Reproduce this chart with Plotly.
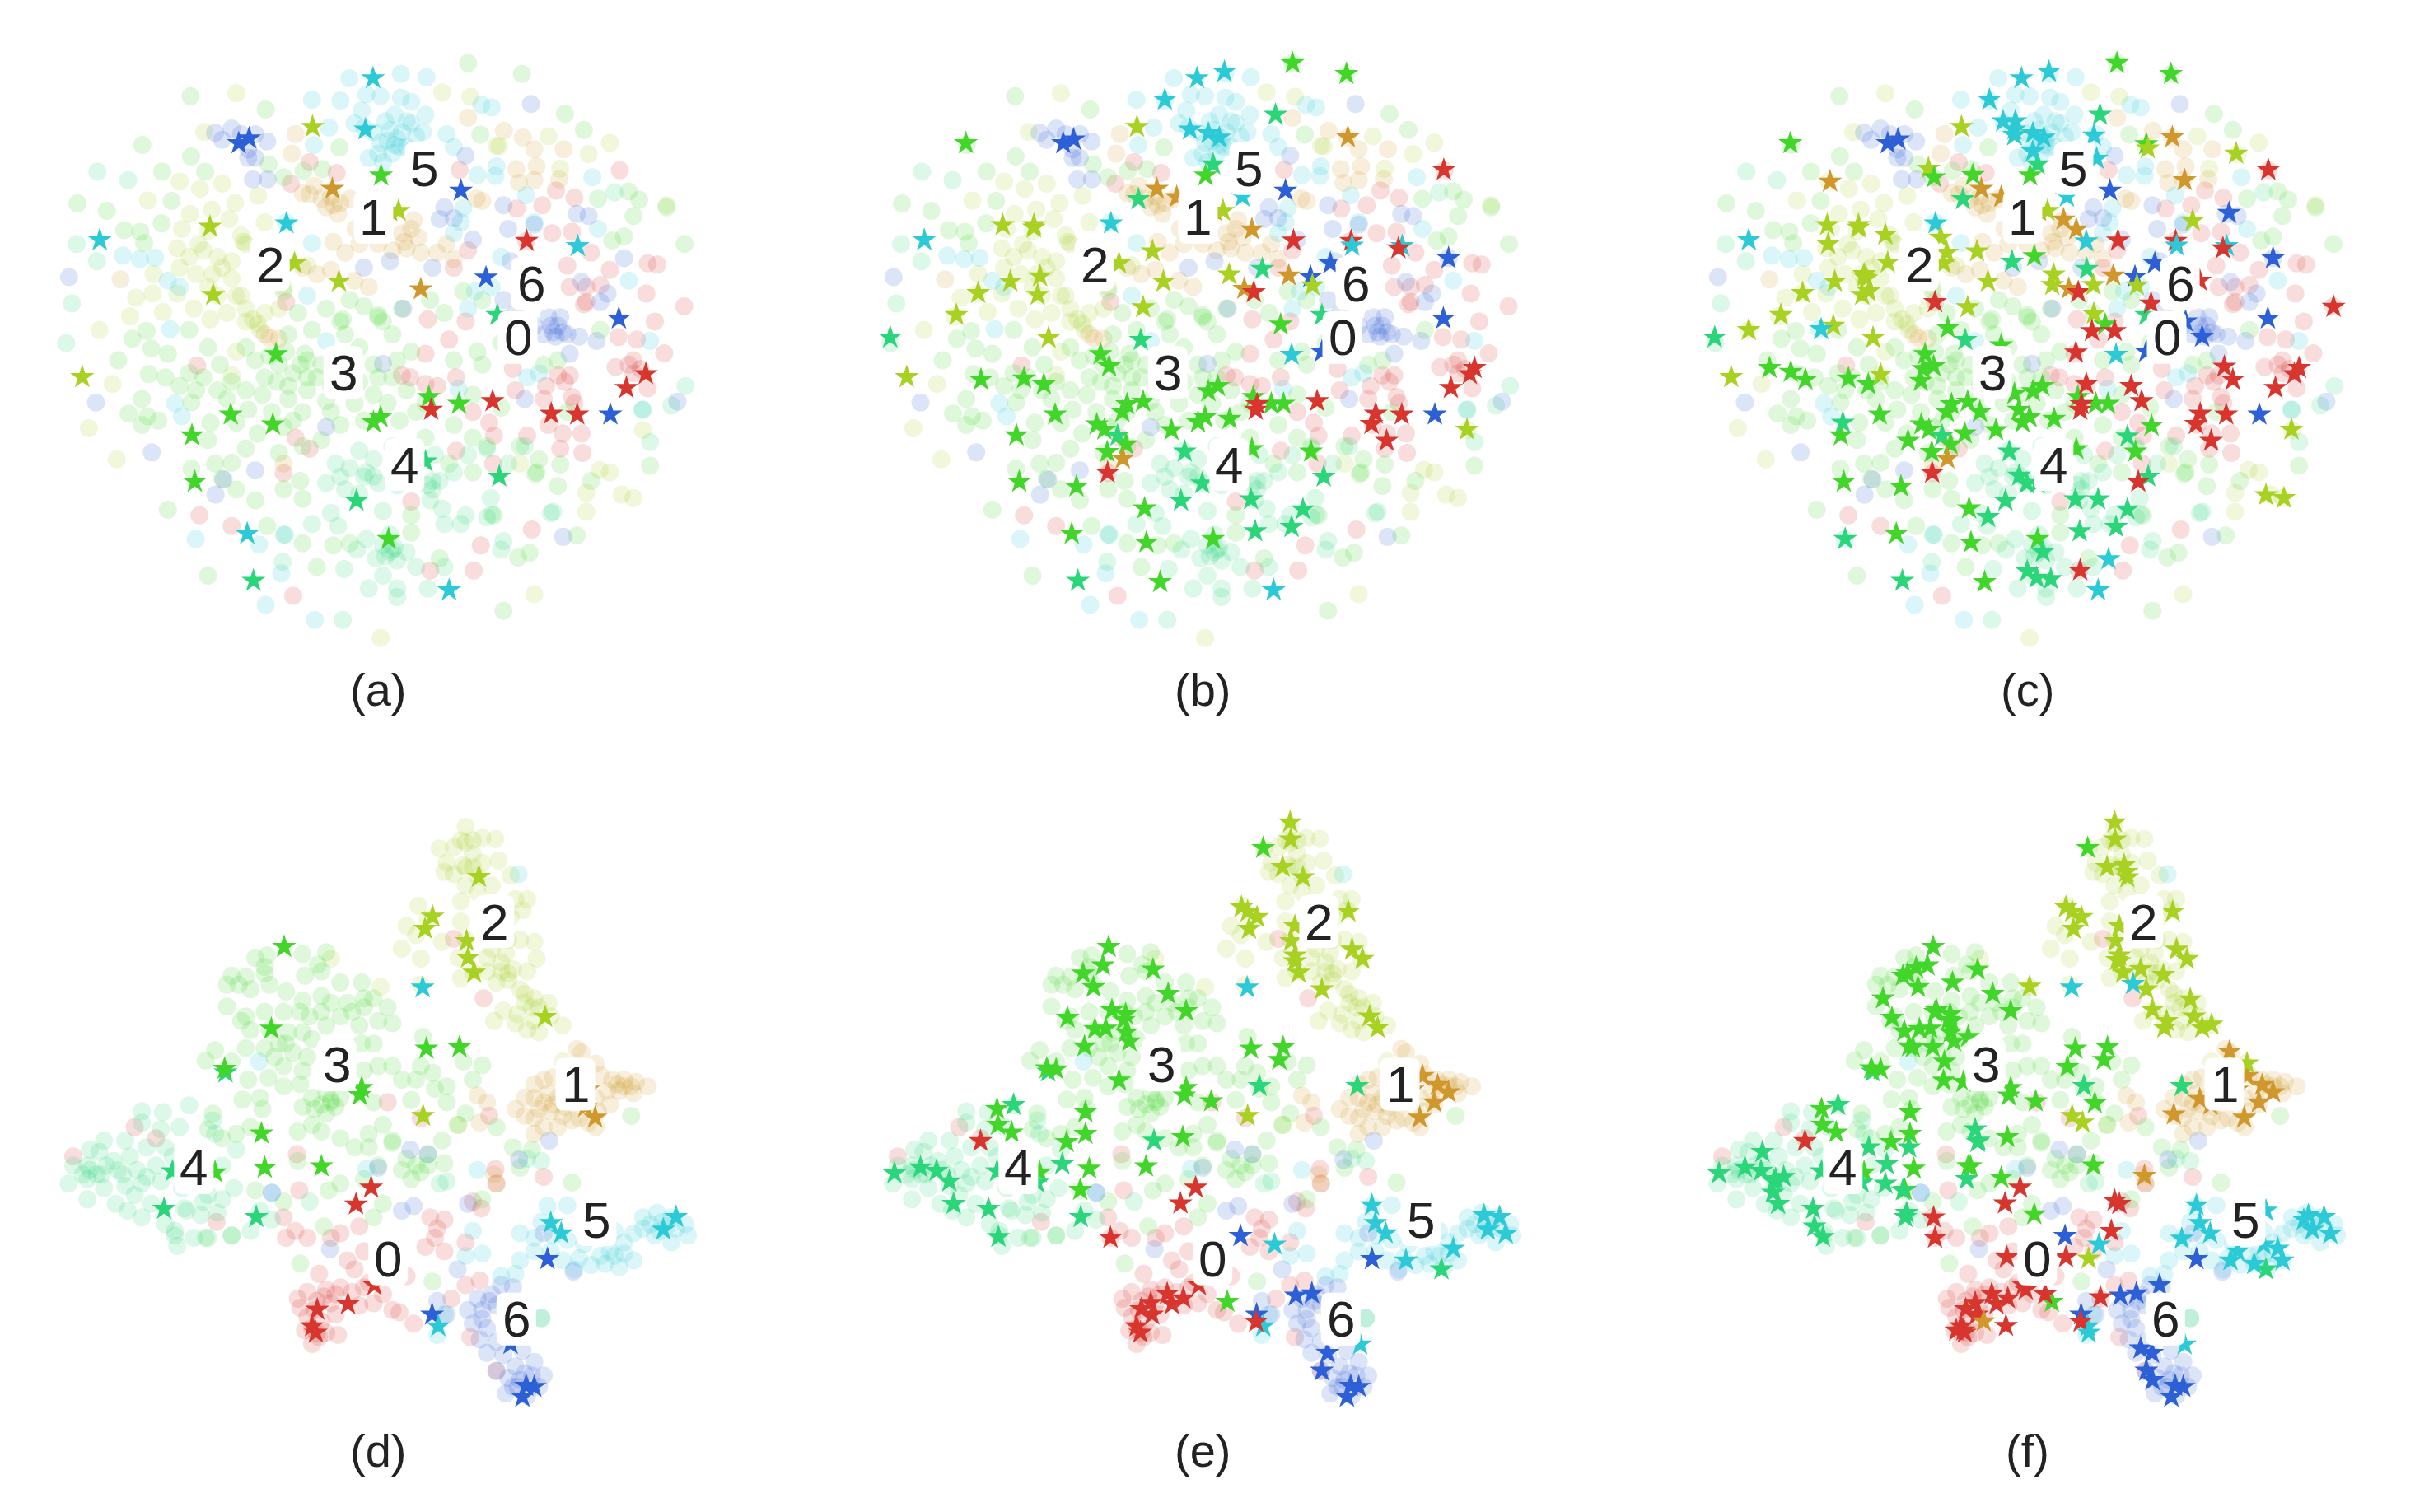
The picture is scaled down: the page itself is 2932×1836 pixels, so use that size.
import plotly.graph_objects as go

class_colors = ["#d8352f", "#d0982c", "#a8d122", "#43d62a", "#2bd67a", "#2ccad6", "#2d5fd6"]

top_bg_0 = [(1311,319),(972,318),(1176,366),(1215,383),(1093,408),(1147,400),(1168,465),(1210,462),(1113,483),(960,545),(990,505),(1200,540),(1290,550),(1205,590),(1240,590),(1270,585),(1235,630),(1367,605),(1447,635),(1385,670),(1308,706),(1347,712),(1405,744),(1340,760),(1302,776),(1340,790),(1370,825),(1205,795),(1180,795),(1155,820),(1210,845),(1150,850),(1160,910),(1190,930),(1185,965),(1232,975),(1230,930),(1115,935),(1090,830),(905,665),(900,745),(985,670),(950,712),(1085,780),(965,800),(868,800),(850,795),(900,815),(925,820),(1035,905),(1045,935),(965,970),(1043,1000),(1000,880),(600,1022),(655,965),(625,940),(422,1120),(490,1145),(1125,1153),(1017,1190),(1002,1248),(910,1248),(620,1307),(417,772),(605,625),(1390,538),(1370,535),(1250,510),(655,300),(712,325),(615,350),(870,1088),(1330,770),(1355,780),(1215,860),(1195,810),(1240,625)]
top_bg_1 = [(640,372),(665,355),(700,380),(690,405),(720,395),(740,385),(715,420),(752,455),(705,485),(875,435),(850,465),(885,475),(860,500),(890,510),(830,505),(800,490),(760,490),(730,510),(670,560),(700,550),(640,545),(750,575),(780,590),(925,510),(945,490),(960,525),(1130,270),(1192,270),(1130,342),(1098,348),(1135,310),(1092,316),(1066,227),(1106,243),(990,197),(1183,340),(625,235),(617,280),(570,708),(590,710),(560,700),(600,1000),(255,572),(1008,385),(1020,390),(680,385),(705,400),(655,375),(870,455),(855,485)]
top_bg_2 = [(500,140),(432,230),(935,138),(995,148),(1056,263),(1245,281),(1290,255),(380,345),(423,362),(470,350),(313,389),(402,420),(448,410),(497,395),(546,378),(485,432),(440,460),(385,455),(420,490),(510,470),(520,490),(560,440),(375,500),(400,520),(430,505),(460,520),(490,530),(380,545),(415,560),(450,560),(490,570),(325,560),(375,605),(323,605),(288,615),(275,658),(345,648),(410,640),(460,610),(500,610),(480,650),(445,665),(520,670),(545,675),(560,650),(520,640),(590,640),(600,590),(650,540),(210,690),(238,815),(188,918),(247,990),(490,795),(500,740),(1410,400),(1268,1015),(1290,1020),(1315,1072),(1340,1080),(1240,1068),(1240,1112),(1360,922),(1130,1303),(805,1405),(1100,1000),(1160,240),(1185,315),(1050,262),(535,665),(550,690),(515,485),(470,545),(510,610),(440,590)]
top_bg_3 = [(403,147),(562,178),(990,70),(1104,95),(301,260),(404,287),(1016,236),(718,266),(434,322),(343,322),(568,305),(600,335),(642,320),(682,316),(164,396),(226,413),(342,442),(363,390),(263,458),(297,462),(305,488),(1352,387),(1330,368),(1235,225),(1195,188),(1265,385),(1340,425),(1295,482),(1320,473),(1410,405),(1448,490),(1375,1005),(1180,1052),(1220,1167),(1132,1024),(1065,1342),(440,1260),(355,1107),(310,692),(280,710),(320,733),(355,745),(250,760),(315,792),(400,790),(300,850),(272,884),(312,890),(300,910),(335,900),(405,858),(445,905),(440,945),(405,1012),(455,1000),(490,998),(520,965),(470,1035),(500,1060),(540,1085),(600,1060),(635,1040),(640,1082),(565,1145),(640,1185),(670,1240),(705,1190),(740,1185),(870,1120),(870,1160),(1000,1020),(1135,1020),(1045,1120),(1120,1207),(1096,1218),(930,1220),(400,690),(440,730),(465,770),(520,730),(570,750),(605,740),(645,745),(680,770),(620,790),(585,810),(555,840),(520,830),(480,850),(525,875),(575,880),(600,915),(640,880),(690,855),(650,830),(610,850),(650,800),(700,820),(750,860),(790,840),(820,860),(770,900),(720,910),(680,945),(640,960),(590,975),(545,930),(500,905),(845,900),(880,880),(840,760),(790,770),(760,730),(720,670),(800,660),(770,635),(740,620),(690,640),(630,650),(660,690),(610,700),(730,700),(830,700),(870,740),(850,640),(910,620),(940,650),(980,600),(1020,620),(1020,770),(1060,720),(1010,740),(960,760),(1000,840),(1060,870),(1100,960),(1140,990),(1185,1002),(960,910),(900,940),(1000,940),(1030,960),(950,1000),(1250,1040),(1180,760),(1150,770),(1270,690),(1200,880),(600,600),(570,560),(800,655),(810,670),(725,665),(635,770),(650,760),(590,770),(560,800),(540,760),(490,810),(460,830),(430,800),(415,830),(380,820),(350,800),(610,820),(670,800),(620,900),(700,880),(730,780),(760,810),(800,800),(830,800),(860,830),(900,860)]
top_bg_4 = [(206,322),(271,342),(205,530),(162,490),(140,720),(152,628),(1450,820),(1360,875),(1375,950),(1420,865),(1170,1112),(1300,370),(1030,1125),(1065,1180),(830,1200),(810,1190),(840,1225),(795,1220),(775,1175),(825,1165),(860,1205),(880,1240),(840,1290),(780,1290),(810,1260),(840,1310),(905,1290),(940,1240),(910,1085),(935,1105),(905,1050),(930,1040),(960,1020),(880,1030),(840,1050),(800,1045),(770,1030),(740,1010),(710,1000),(690,1045),(730,1060),(760,1070),(790,990),(700,1115),(715,1145),(660,1140),(600,1165),(598,1228),(728,1245),(725,1363),(940,1140),(975,1140),(1040,1118),(1038,1080),(985,1120),(830,960),(870,1000),(760,970),(920,980),(990,980),(1030,965),(810,1110),(1165,1115),(1110,960),(1075,1000),(755,1200),(1060,1200),(825,1205),(835,1195),(815,1215),(775,1020),(790,1030),(915,1040),(915,1060),(720,1030)]
top_bg_5 = [(739,105),(848,95),(902,103),(660,155),(720,157),(1018,167),(1040,173),(775,143),(805,147),(765,180),(848,150),(870,160),(835,190),(815,205),(900,190),(870,210),(850,230),(895,230),(840,245),(805,255),(790,230),(860,265),(830,280),(810,300),(780,290),(750,210),(770,220),(945,235),(960,265),(696,220),(664,260),(1050,310),(1010,330),(1048,332),(1113,377),(1253,335),(980,407),(975,440),(960,465),(1130,440),(1265,455),(1060,520),(1005,600),(990,640),(1040,590),(328,522),(296,525),(260,517),(355,575),(360,688),(385,890),(370,860),(380,590),(1330,575),(1375,715),(1115,800),(1140,790),(970,827),(1358,875),(414,1175),(595,1255),(666,1363),(562,1328),(548,1188),(603,1165),(605,440),(660,488),(650,610),(690,715),(835,260),(845,265),(825,225),(860,205),(820,250),(880,240),(800,280)]
top_bg_6 = [(455,232),(490,222),(470,248),(510,235),(540,235),(565,252),(525,270),(525,290),(540,290),(535,340),(566,340),(1123,165),(985,285),(940,405),(960,430),(930,432),(1000,480),(1065,400),(1075,455),(1130,445),(1220,420),(1245,425),(1320,523),(1230,578),(1285,605),(1270,625),(146,567),(203,858),(321,974),(473,1037),(456,1072),(540,1016),(1191,1170),(1433,856),(853,640),(1160,660),(1185,660),(1150,700),(1175,705),(1200,700),(1225,705),(1205,745),(1262,715),(1110,850),(1065,620),(1090,650),(1080,530),(770,545),(825,530),(915,545),(690,915),(810,768),(1180,680),(1170,695),(1190,695),(1165,680),(1130,680)]
bot_bg_0 = [(1023,460),(960,328),(285,745),(330,770),(155,810),(458,955),(600,945),(605,990),(625,975),(650,990),(633,885),(628,805),(720,980),(700,990),(760,965),(910,945),(940,950),(920,990),(900,1010),(940,1020),(985,1000),(1018,925),(1048,838),(1050,870),(1000,910),(735,1040),(750,1060),(770,1020),(840,1060),(860,1075),(675,1070),(690,1105),(720,1100),(650,1110),(670,1130),(630,1125),(700,1135),(745,1110),(780,1090),(810,1115),(790,1135),(760,1140),(830,1150),(845,1155),(650,1165),(680,1175),(645,1195),(670,1200),(660,1225),(715,1205),(690,1200),(875,1180),(955,1125),(985,1095),(1015,1085),(995,1210),(1050,1285),(890,725),(820,690),(635,1145),(710,1160),(1150,855),(1035,720),(660,1190),(675,1210),(685,1120),(710,1115),(665,1150),(770,1100),(925,970)]
bot_bg_1 = [(1220,572),(1230,580),(1260,605),(1270,630),(1295,640),(1320,640),(1345,645),(1370,655),(1340,670),(1310,665),(1285,665),(1260,680),(1290,695),(1265,710),(1130,650),(1150,640),(1170,635),(1110,680),(1130,680),(1160,670),(1180,680),(1140,705),(1090,705),(1110,720),(1130,725),(1165,710),(1190,720),(1210,730),(1150,745),(1130,760),(1180,745),(1225,725),(1245,735),(1260,745),(1045,850),(1050,870),(1010,675),(1030,690),(1015,735),(1320,655),(1335,655),(1150,690),(1170,695),(1195,700),(1305,650)]
bot_bg_2 = [(985,80),(975,110),(1020,105),(1048,107),(930,128),(960,125),(1000,140),(945,160),(980,165),(1020,160),(1055,155),(960,185),(1010,190),(1080,188),(940,180),(985,210),(1040,210),(975,245),(1010,225),(1090,240),(1115,240),(1105,265),(885,255),(860,300),(905,285),(880,320),(850,350),(890,372),(935,335),(975,290),(985,330),(970,370),(1000,400),(975,415),(1040,350),(1075,330),(1100,330),(1130,335),(1135,372),(1030,400),(1060,380),(1085,395),(1050,425),(1075,420),(1100,440),(1130,460),(1110,470),(1140,480),(1065,487),(1095,495),(1130,510),(1165,500),(1190,520),(1045,510),(1115,530),(1140,535),(1090,515),(1160,470),(1050,300),(1080,280),(1070,360),(1030,370),(1115,400),(805,435),(890,430),(970,740),(700,372),(1190,600),(985,115),(1000,110),(985,170),(1000,170),(1060,400),(1075,405),(1110,450),(1125,480)]
bot_bg_3 = [(565,365),(560,390),(540,370),(640,362),(690,358),(672,385),(645,410),(680,400),(490,410),(520,412),(480,430),(570,430),(530,440),(605,445),(640,465),(680,455),(720,425),(765,425),(770,460),(745,490),(700,470),(720,500),(680,490),(635,490),(600,490),(560,490),(520,500),(480,478),(510,510),(530,530),(570,530),(605,560),(560,570),(520,570),(640,535),(660,550),(620,580),(580,590),(600,610),(640,620),(690,520),(760,520),(800,510),(830,515),(820,480),(790,460),(790,560),(765,560),(455,575),(435,598),(490,600),(525,640),(568,636),(550,680),(513,684),(555,705),(600,655),(635,650),(660,680),(700,690),(720,680),(690,715),(640,700),(660,740),(630,755),(680,755),(720,770),(750,790),(780,760),(810,740),(790,690),(770,620),(800,610),(830,610),(850,640),(880,640),(890,610),(915,625),(945,655),(920,660),(870,685),(945,690),(985,715),(1020,608),(895,545),(980,600),(1000,640),(1050,745),(968,740),(935,775),(830,775),(860,815),(880,830),(905,830),(940,825),(870,860),(850,840),(800,830),(780,790),(540,885),(490,985),(435,990),(635,1047),(685,965),(790,945),(810,915),(770,860),(720,870),(695,885),(630,820),(600,910),(1020,905),(1085,790),(1125,795),(1100,835),(1210,868),(1335,720),(915,1087),(1145,1168),(500,760),(470,770),(530,745),(440,750),(450,715),(700,685),(680,695),(710,700),(665,705),(690,670),(590,560),(610,535),(655,500),(735,470),(770,480),(560,405),(505,430),(650,590),(830,780),(905,805),(890,845)]
bot_bg_4 = [(300,710),(345,712),(400,697),(300,735),(340,750),(380,745),(450,730),(455,760),(190,795),(220,775),(265,775),(210,800),(240,820),(275,810),(310,790),(350,790),(155,830),(185,830),(215,850),(250,840),(290,840),(330,830),(365,810),(145,870),(185,860),(220,880),(265,875),(300,870),(340,865),(185,905),(245,915),(285,895),(320,915),(270,930),(300,945),(350,960),(385,880),(390,925),(430,910),(470,905),(495,880),(460,935),(425,940),(370,985),(410,990),(440,990),(375,1008),(490,985),(530,975),(550,930),(575,950),(930,870),(945,865),(655,910),(1145,820),(1115,815),(395,930),(500,795),(470,830),(205,850),(190,840),(225,830),(175,850),(260,850),(310,855),(440,895),(370,975)]
bot_bg_5 = [(1097,185),(1158,920),(1200,918),(1145,955),(1100,980),(1130,990),(1170,985),(1200,995),(1235,1005),(1130,1020),(1165,1020),(1190,1040),(1225,1035),(1250,1050),(1280,1048),(1310,1055),(1340,1040),(1290,1020),(1320,1000),(1300,975),(1340,980),(1360,945),(1390,935),(1420,945),(1450,960),(1455,985),(1420,1000),(1385,985),(1360,970),(1410,965),(1215,1060),(1100,1040),(1000,975),(1020,1025),(985,1030),(1090,1070),(1060,1075),(925,1205),(775,838),(548,600),(575,890),(940,1160),(1010,840),(1145,1168),(1400,955),(1375,960),(1430,970),(1395,975),(1300,1030),(1270,1030),(1320,1025)]
bot_bg_6 = [(1162,775),(1098,817),(868,795),(905,805),(875,920),(850,930),(575,890),(698,1015),(968,1060),(1213,1065),(1150,980),(1060,1095),(1085,1100),(1040,1115),(1010,1125),(990,1150),(1020,1150),(1050,1140),(1000,1180),(1030,1190),(1015,1215),(1050,1220),(1030,1245),(1065,1250),(1105,1240),(1130,1265),(1090,1275),(1050,1285),(1075,1300),(1125,1295),(1150,1295),(1095,1320),(1070,1335),(1115,1340),(1140,1320),(945,1160),(925,1130),(800,835),(990,915),(1100,1305),(1085,1320),(1110,1290),(1020,1170),(1035,1130)]

stars_a = [(789,105,5),(661,218,2),(773,224,5),(505,256,6),(527,245,6),(806,331,3),(703,362,1),(975,366,6),(825,413,1),(843,413,2),(444,450,2),(606,442,5),(211,481,5),(1114,483,0),(1222,495,5),(623,535,2),(717,577,2),(890,595,1),(1028,568,6),(451,608,2),(1052,655,4),(1309,663,6),(174,799,2),(584,746,3),(1366,792,0),(1325,824,0),(907,845,3),(912,875,0),(971,861,3),(1042,855,0),(488,886,3),(577,909,3),(805,892,3),(790,904,3),(1166,884,0),(1221,886,0),(1291,886,6),(406,934,3),(412,1042,3),(1056,1030,4),(900,995,4),(754,1086,4),(822,1175,3),(523,1163,5),(536,1272,4),(950,1294,5)]
stars_b = [(990,70,3),(1104,95,3),(846,90,5),(788,105,5),(720,155,5),(954,190,4),(661,218,2),(773,224,5),(812,233,5),(835,243,5),(299,256,3),(505,256,6),(527,247,6),(1107,242,1),(822,305,4),(806,331,3),(1310,318,0),(703,362,1),(745,381,1),(664,386,4),(884,380,5),(975,366,6),(825,413,1),(843,413,2),(377,446,2),(443,446,2),(443,452,2),(606,442,5),(904,456,1),(211,481,5),(992,482,0),(1114,483,0),(1116,494,5),(1222,495,5),(1214,500,0),(694,507,2),(1320,523,6),(623,535,2),(1070,535,6),(926,548,4),(856,561,2),(982,563,1),(1028,566,6),(393,577,2),(456,565,2),(717,577,2),(1032,586,2),(888,594,1),(908,602,0),(325,604,2),(451,608,2),(674,637,2),(279,655,2),(1052,655,4),(965,677,3),(1309,663,6),(139,707,4),(474,708,2),(669,713,4),(988,747,5),(1052,740,6),(584,746,3),(602,774,3),(1375,778,0),(1365,792,0),(174,799,2),(331,805,3),(422,802,3),(464,816,3),(832,820,3),(812,832,3),(1325,824,0),(907,845,3),(1042,855,0),(674,856,3),(640,862,3),(630,880,3),(945,861,3),(971,861,3),(915,862,0),(912,875,0),(1166,884,0),(1157,908,0),(1221,886,0),(1291,886,6),(488,886,3),(576,909,3),(592,921,3),(805,892,3),(790,904,3),(857,896,3),(734,922,3),(406,934,3),(620,935,4),(638,955,3),(1189,947,0),(1359,921,2),(762,972,4),(598,973,3),(904,966,3),(1029,972,3),(631,988,1),(599,1021,0),(412,1042,3),(533,1053,3),(799,1046,4),(1056,1030,4),(902,1083,4),(754,1086,4),(677,1104,3),(1012,1106,4),(911,1157,4),(988,1147,4),(523,1163,3),(681,1183,3),(822,1175,3),(536,1272,4),(710,1275,3),(950,1294,5)]
stars_c_more = [(749,205,5),(775,205,5),(773,237,3),(773,237,5),(812,275,5),(947,292,5),(1052,258,3),(1055,268,2),(941,238,5),(1242,280,2),(591,315,2),(603,335,3),(685,330,3),(383,345,1),(1133,342,1),(1150,436,2),(1227,418,6),(877,433,1),(925,484,5),(617,475,2),(500,468,2),(379,490,2),(630,510,2),(505,533,2),(768,531,4),(815,518,3),(455,560,2),(460,570,2),(465,600,2),(940,585,2),(853,585,2),(1165,575,0),(605,625,0),(1062,628,0),(941,652,2),(632,685,3),(390,680,2),(364,688,5),(937,692,0),(985,692,0),(211,690,2),(1170,705,6),(1135,670,6),(745,725,3),(903,742,0),(1217,775,0),(1235,805,0),(490,793,2),(255,778,3),(300,787,3),(580,780,3),(575,808,3),(925,815,0),(1020,820,0),(773,838,3),(700,880,3),(782,875,3),(1063,912,3),(1012,937,4),(668,930,3),(548,947,3),(410,905,4),(783,1028,4),(822,1045,4),(950,1083,4),(1035,1042,0),(717,1124,4),(833,1205,4),(972,1222,5),(912,1248,0),(800,1250,4),(820,1265,4),(850,1268,4),(1305,1073,2),(1343,1080,2),(1448,636,0),(415,1175,4)]
stars_d = [(601,346,3),(1013,191,2),(915,279,2),(899,306,2),(987,333,2),(990,370,2),(1003,403,2),(894,436,5),(1153,501,2),(574,527,3),(902,571,3),(972,568,3),(477,624,4),(475,616,3),(765,658,3),(761,674,3),(1259,724,1),(1244,662,1),(1238,700,1),(895,720,2),(553,759,3),(560,835,3),(680,832,3),(365,843,4),(455,845,3),(785,879,0),(753,916,0),(347,926,4),(542,944,4),(1165,957,5),(1187,980,5),(1430,944,5),(1403,972,5),(1158,1037,6),(792,1095,0),(671,1149,0),(736,1137,0),(660,1186,0),(668,1200,0),(914,1160,6),(927,1186,5),(1080,1225,6),(1130,1320,6),(1113,1318,6),(1105,1342,6)]
stars_e = [(985,70,2),(986,108,2),(928,127,3),(969,169,2),(1012,192,2),(882,258,2),(895,268,2),(915,280,2),(898,306,2),(1108,268,2),(995,300,2),(987,333,2),(995,365,2),(995,378,2),(1003,403,2),(1116,352,2),(1138,373,2),(1052,440,2),(1153,500,2),(1170,525,2),(894,436,5),(601,346,3),(589,387,3),(547,405,3),(569,435,3),(695,396,3),(727,450,3),(608,486,3),(637,495,3),(633,508,3),(765,488,3),(514,503,3),(572,528,3),(595,527,3),(638,535,3),(645,555,3),(550,566,3),(902,571,3),(970,568,3),(962,596,3),(473,622,4),(470,615,3),(490,617,3),(623,642,3),(920,654,4),(765,658,3),(761,675,3),(818,688,3),(1127,654,4),(1265,632,1),(1297,652,1),(1320,668,1),(1290,690,1),(1259,724,1),(1244,662,1),(895,720,2),(365,705,3),(400,696,4),(367,740,3),(396,757,3),(552,712,3),(552,760,3),(512,778,3),(697,775,4),(758,767,3),(330,776,0),(148,847,4),(203,834,4),(237,842,4),(264,865,4),(503,827,4),(560,837,3),(680,832,3),(365,843,4),(455,845,3),(450,868,4),(541,884,3),(785,879,0),(753,914,0),(273,915,4),(347,926,4),(542,944,4),(368,988,4),(605,990,0),(1158,918,5),(1165,957,5),(1187,980,5),(1395,940,5),(1428,944,5),(1403,972,5),(1441,981,5),(880,986,6),(952,1005,5),(1330,1014,5),(1230,1040,5),(1305,1060,4),(1158,1037,6),(792,1095,0),(725,1114,0),(759,1124,0),(690,1134,0),(670,1148,0),(735,1137,0),(693,1160,0),(660,1186,0),(668,1200,0),(852,1132,3),(997,1118,6),(1031,1113,6),(914,1160,6),(928,1186,5),(913,1176,0),(1133,1226,5),(1064,1245,6),(1052,1284,6),(1130,1320,6),(1113,1318,6),(1105,1342,6)]
stars_f_more = [(1005,165,2),(1010,180,2),(990,375,2),(1040,395,2),(1088,408,2),(1065,485,2),(1095,510,2),(1090,525,2),(1145,462,2),(1190,518,2),(805,434,2),(1024,428,5),(537,410,3),(565,392,3),(642,425,3),(495,460,3),(605,490,3),(640,510,3),(540,533,3),(675,545,3),(600,568,3),(558,568,3),(625,600,3),(665,645,3),(885,612,3),(1228,578,1),(1265,604,2),(1165,683,1),(1110,717,1),(1188,695,1),(943,692,3),(917,735,2),(690,750,4),(695,778,4),(550,790,4),(465,790,4),(940,830,3),(1048,853,1),(745,857,3),(672,860,4),(675,832,3),(500,870,4),(537,885,4),(268,860,4),(285,855,4),(262,890,4),(240,800,4),(350,965,4),(545,935,4),(602,945,0),(985,908,0),(995,915,0),(815,938,3),(978,975,0),(930,1036,2),(882,1033,0),(757,1033,0),(838,1115,0),(797,1105,0),(955,1122,0),(708,1175,1),(755,1185,0),(665,1195,0),(650,1195,0),(930,1200,5),(1080,1095,6),(1040,1235,6),(1065,1305,6),(1127,992,5),(1245,1020,5),(1280,1048,5),(1340,1040,5),(1300,1005,5),(1305,930,5),(1385,950,5)]

top_digits = [(1095,707),(790,428),(571,538),(726,788),(856,1002),(898,315),(1123,582)]
bot_digits = [(821,1037),(1217,650),(1046,290),(712,607),(410,835),(1262,950),(1092,1170)]
captions = ["(a)", "(b)", "(c)", "(d)", "(e)", "(f)"]

top_bg = [top_bg_0, top_bg_1, top_bg_2, top_bg_3, top_bg_4, top_bg_5, top_bg_6]
bot_bg = [bot_bg_0, bot_bg_1, bot_bg_2, bot_bg_3, bot_bg_4, bot_bg_5, bot_bg_6]

# panel crops in page pixels (left, top, height); the body margin is 8px
body = 8
panel_left = [body, 1001 + body, 2002 + body]
panel_w = 900 - body
x_start = body * 1568 / 900
rows = [(40, 820, 1525), (960, 860, 1462)]
page_w, page_h = 2932, 1836

pill = "M -24,-22 Q -24,-32 -14,-32 L 14,-32 Q 24,-32 24,-22 L 24,22 Q 24,32 14,32 L -14,32 Q -24,32 -24,22 Z"

panels = [
    (0, 0, top_bg, stars_a, top_digits),
    (1, 0, top_bg, stars_b, top_digits),
    (2, 0, top_bg, stars_b + stars_c_more, top_digits),
    (0, 1, bot_bg, stars_d, bot_digits),
    (1, 1, bot_bg, stars_e, bot_digits),
    (2, 1, bot_bg, stars_e + stars_f_more, bot_digits),
]

fig = go.Figure()
shapes = []
annotations = []
w = page_w - 2 * body
h = page_h - 2 * body

for i, (col, row, bg, stars, digits) in enumerate(panels):
    n = "" if i == 0 else str(i + 1)
    top, height, cap_y = rows[row]
    x0 = (panel_left[col] - body) / w
    x1 = (panel_left[col] + panel_w - body) / w
    y1 = 1 - (top - body) / h
    y0 = 1 - (top + height - body) / h
    fig.update_layout({
        "xaxis" + n: dict(domain=[x0, x1], range=[x_start, 1568], visible=False, anchor="y" + n),
        "yaxis" + n: dict(domain=[y0, y1], range=[1568, 0], visible=False, anchor="x" + n),
    })

    for k, points in enumerate(bg):
        fig.add_trace(go.Scatter(
            x=[p[0] for p in points], y=[p[1] for p in points], mode="markers",
            xaxis="x" + n, yaxis="y" + n, showlegend=False, hoverinfo="skip",
            marker=dict(size=22, color=class_colors[k], opacity=0.17, line=dict(width=0)),
        ))

    fig.add_trace(go.Scatter(
        x=[s[0] for s in stars], y=[s[1] for s in stars], mode="markers",
        xaxis="x" + n, yaxis="y" + n, showlegend=False, hoverinfo="skip",
        marker=dict(symbol="star", size=22, color=[class_colors[s[2]] for s in stars], line=dict(width=0)),
    ))

    # white pill behind each class number
    for d, (dx, dy) in enumerate(digits):
        shapes.append(dict(
            type="path", path=pill, xref="x" + n, yref="y" + n, layer="above",
            xsizemode="pixel", ysizemode="pixel", xanchor=dx, yanchor=dy,
            fillcolor="white", line=dict(width=0),
        ))
        annotations.append(dict(
            x=dx, y=dy, xref="x" + n, yref="y" + n, text=str(d), showarrow=False,
            font=dict(family="Liberation Sans", size=62, color="#222222"),
        ))

    annotations.append(dict(
        x=800, y=cap_y, xref="x" + n, yref="y" + n, text=captions[i], showarrow=False,
        font=dict(family="Liberation Sans", size=56, color="#222222"),
    ))

fig.update_layout(
    width=w, height=h, margin=dict(l=0, r=0, t=0, b=0),
    paper_bgcolor="white", plot_bgcolor="white",
    shapes=shapes, annotations=annotations,
)

fig.write_html("out.html")
